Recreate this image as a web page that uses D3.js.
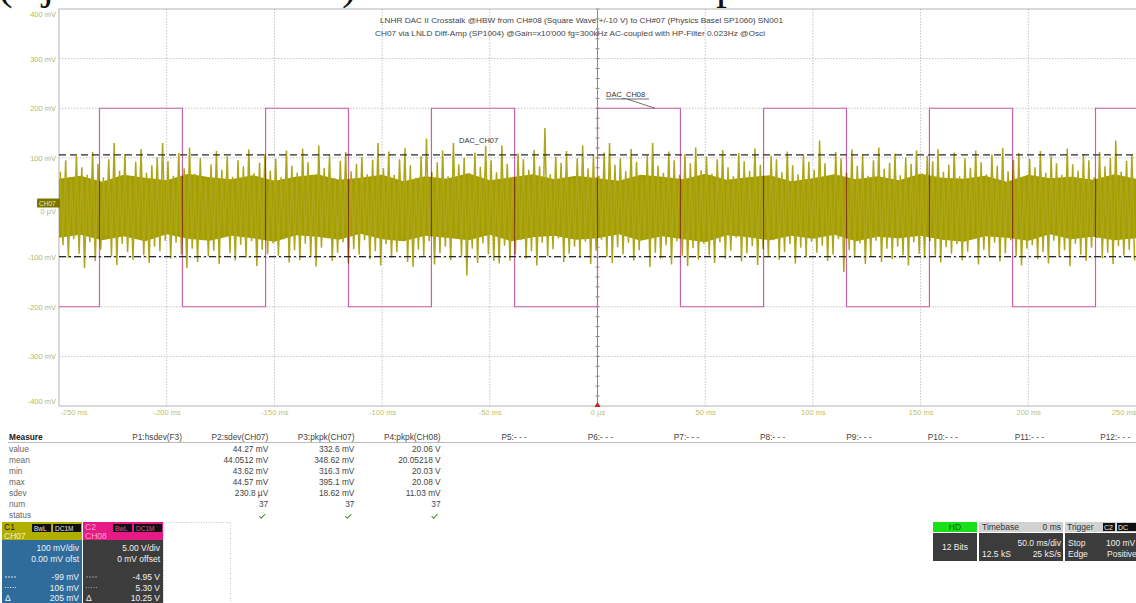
<!DOCTYPE html>
<html><head><meta charset="utf-8">
<script src="https://cdn.jsdelivr.net/npm/d3@7"></script>
<style>
html,body{margin:0;padding:0;background:#fff;}
svg{display:block;font-family:"Liberation Sans",Arial,sans-serif;}
</style></head><body>
<svg id="scope" width="1136" height="603"></svg>
<script>
// ---------- axis ticks ----------
const timeTicks = [-250,-200,-150,-100,-50,0,50,100,150,200,250];
const timeTickLabels = ["-250 ms","-200 ms","-150 ms","-100 ms","-50 ms","0 µs","50 ms","100 ms","150 ms","200 ms","250 ms"];
const voltTicks = [400,300,200,100,0,-100,-200,-300,-400];
const voltTickLabels = ["400 mV","300 mV","200 mV","100 mV","0 µV","-100 mV","-200 mV","-300 mV","-400 mV"];

// ---------- channel settings ----------
const ch07Scale = 100;   // mV/div
const ch08Scale = 5;     // V/div

// ---------- CH08: square wave +/-10 V ----------
const ch08EdgeTimes = [-231.2,-192.7,-154.1,-115.6,-77.1,-38.5,0,38.5,77.1,115.6,154.1,192.7,231.2]; // ms
const ch08Segments  = [-10,10,-10,10,-10,10,-10,10,-10,10,-10,10,-10,10]; // V

// ---------- CH07: crosstalk noise, peak values per 2.5 ms bin (mV) ----------
const noiseBinMs = 2.5;
const ch07PeakHigh = [
 72,95,58,104,81,66,112,88,61,97,130,74,108,63,92,118,70,85,101,130,
 93,64,110,79,121,68,99,57,87,114,76,103,62,95,83,117,69,90,108,74,
 98,61,115,84,70,119,91,65,125,80,106,59,94,112,73,88,102,67,96,130,
 79,113,66,97,120,85,60,104,139,72,91,115,63,130,87,100,69,111,82,124,
 95,71,125,88,62,109,97,76,116,83,160,67,102,90,114,58,99,125,79,107,
 64,111,130,86,99,73,118,92,61,105,130,84,70,113,95,66,108,89,121,75,
 102,68,97,116,81,63,110,93,74,119,86,59,104,97,71,113,85,67,108,92,
 76,135,89,62,112,99,70,117,84,106,64,95,121,78,90,109,65,101,88,115,
 69,104,93,118,72,86,111,63,99,80,115,91,67,107,84,120,73,96,110,62,
 98,81,114,70,103,89,66,119,87,74,108,95,61,112,83,100,135,72,94,106];
const ch07PeakLow = [
 -76,-101,-64,-93,-122,-70,-108,-85,-59,-99,-116,-73,-90,-105,-62,-96,-112,-79,-88,-67,
 -103,-71,-95,-122,-83,-110,-66,-98,-87,-114,-60,-92,-107,-75,-100,-68,-118,-85,-94,-72,
 -97,-64,-111,-86,-106,-73,-99,-119,-81,-62,-108,-91,-70,-113,-84,-95,-66,-104,-88,-117,
 -74,-101,-90,-63,-110,-120,-85,-97,-68,-115,-92,-79,-106,-61,-99,-137,-83,-112,-72,-94,
 -108,-113,-77,-107,-95,-66,-103,-88,-117,-71,-98,-84,-62,-110,-93,-79,-101,-69,-114,-87,
 -65,-99,-112,-80,-94,-71,-107,-86,-63,-120,-91,-103,-76,-115,-68,-97,-118,-82,-105,-73,
 -96,-112,-70,-103,-87,-61,-109,-92,-78,-116,-84,-99,-66,-105,-90,-74,-113,-81,-100,-69,
 -91,-77,-108,-95,-64,-130,-86,-101,-72,-114,-98,-67,-110,-83,-104,-79,-96,-117,-70,-93,
 -102,-68,-97,-111,-80,-93,-74,-107,-89,-63,-115,-85,-100,-71,-109,-92,-66,-98,-117,-83,
 -76,-104,-90,-113,-67,-99,-86,-118,-73,-95,-108,-81,-62,-102,-91,-114,-78,-97,-85,-107];
// dense core of the trace, every 10 ms from -250 ms (mV)
const coreStepMs = 10;
const ch07CoreHigh = [58,64,52,66,60,55,68,61,57,65,54,62,67,56,60,66,53,63,58,69,55,61,67,57,64,59,54,66,62,57,68,56,61,65,53,59,67,57,63,55,68,60,58,64,52,66,59,62,56,67,58];
const ch07CoreLow  = [-61,-55,-66,-58,-68,-54,-63,-67,-57,-62,-69,-56,-59,-65,-53,-64,-68,-57,-61,-66,-55,-68,-60,-57,-65,-62,-54,-67,-58,-64,-70,-56,-60,-66,-57,-63,-55,-68,-59,-62,-57,-65,-69,-58,-61,-67,-54,-64,-59,-66,-62];

// ---------- cursors (mV) ----------
const cursorLevels = [106,-99];
const cursorDash = ["7,4","7,3,2,3"];

// ---------- measurement table ----------
const measureRows = ["value","mean","min","max","sdev","num","status"];
const measureHeaders = ["P1:hsdev(F3)","P2:sdev(CH07)","P3:pkpk(CH07)","P4:pkpk(CH08)","P5:- - -","P6:- - -","P7:- - -","P8:- - -","P9:- - -","P10:- - -","P11:- - -","P12:- - -"];
const p2Values = ["44.27 mV","44.0512 mV","43.62 mV","44.57 mV","230.8 µV","37"];
const p3Values = ["332.6 mV","348.62 mV","316.3 mV","395.1 mV","18.62 mV","37"];
const p4Values = ["20.06 V","20.05218 V","20.03 V","20.08 V","11.03 mV","37"];

// ---------- channel / timebase panels ----------
const c1Lines = ["100 mV/div","0.00 mV ofst","-99 mV","106 mV","205 mV"];
const c2Lines = ["5.00 V/div","0 mV offset","-4.95 V","5.30 V","10.25 V"];
const titleLines = [
 "LNHR DAC II Crosstalk @HBW from CH#08 (Square Wave +/-10 V) to CH#07 (Physics Basel  SP1060) SN001",
 "CH07 via LNLD Diff-Amp (SP1004) @Gain=x10'000 fg=300kHz AC-coupled with HP-Filter 0.023Hz @Osci"];

// ================= drawing =================
const svg = d3.select("#scope");
const plot = {left:59, right:1136, top:9, bottom:406};

const x = d3.scaleLinear().domain([-250,250]).range([plot.left, plot.right]);
const yDiv = d3.scaleLinear().domain([-4,4]).range([plot.bottom, plot.top]);
const yMV = d3.scaleLinear().domain([-400,400]).range([plot.bottom, plot.top]);

svg.append("rect").attr("width",1136).attr("height",603).attr("fill","#fff");

// cropped caption of the page above
const capG = svg.append("g").attr("font-family","'Liberation Serif',serif").attr("font-size",44).attr("fill","#111");
[["(",-2],["j",42],[")",342],["p",716]].forEach(([c,px]) =>
  capG.append("text").attr("x",px).attr("y",-1).text(c));

svg.append("defs").append("clipPath").attr("id","plotClip")
  .append("rect").attr("x",plot.left).attr("y",plot.top)
  .attr("width",plot.right-plot.left).attr("height",plot.bottom-plot.top);

// grid
const grid = svg.append("g");
grid.selectAll("line.v").data(timeTicks.filter(t=>t!==-250 && t!==0 && t!==250)).join("line")
  .attr("x1",d=>x(d)).attr("x2",d=>x(d)).attr("y1",plot.top).attr("y2",plot.bottom)
  .attr("stroke","#c4c4c4").attr("stroke-dasharray","1.5,1.5");
grid.selectAll("line.h").data(voltTicks.filter(v=>Math.abs(v)!==400 && v!==0)).join("line")
  .attr("x1",plot.left).attr("x2",plot.right).attr("y1",d=>yMV(d)).attr("y2",d=>yMV(d))
  .attr("stroke","#c4c4c4").attr("stroke-dasharray","1.5,1.5");
// centre axes with minor ticks
grid.append("line").attr("x1",x(0)).attr("x2",x(0)).attr("y1",plot.top).attr("y2",plot.bottom)
  .attr("stroke","#8a8a8a");
grid.append("line").attr("x1",plot.left).attr("x2",plot.right).attr("y1",yDiv(0)).attr("y2",yDiv(0))
  .attr("stroke","#8a8a8a");
grid.selectAll("line.ty").data(d3.range(-4,4.01,0.2)).join("line")
  .attr("x1",x(0)-2).attr("x2",x(0)+2).attr("y1",d=>yDiv(d)).attr("y2",d=>yDiv(d)).attr("stroke","#8a8a8a");
grid.selectAll("line.tx").data(d3.range(-250,250.01,10)).join("line")
  .attr("x1",d=>x(d)).attr("x2",d=>x(d)).attr("y1",yDiv(0)-2).attr("y2",yDiv(0)+2).attr("stroke","#8a8a8a");
// frame
svg.append("rect").attr("x",plot.left).attr("y",plot.top).attr("width",plot.right-plot.left+2)
  .attr("height",plot.bottom-plot.top).attr("fill","none").attr("stroke","#b4b4b4");

const traces = svg.append("g").attr("clip-path","url(#plotClip)");

// CH07 trace: dense core and peak excursions
const coreArea = d3.area()
  .x((d,i)=>x(-250 + i*coreStepMs))
  .y0((d,i)=>yDiv(ch07CoreLow[i]/ch07Scale))
  .y1((d,i)=>yDiv(ch07CoreHigh[i]/ch07Scale));
traces.append("path").datum(ch07CoreHigh).attr("d",coreArea).attr("fill","#a49e00");

const zig = [];
ch07PeakHigh.forEach((hi,i) => {
  const t0 = -250 + i*noiseBinMs;
  zig.push([t0 + 0.6, hi]);
  zig.push([t0 + 1.85, ch07PeakLow[i]]);
});
traces.append("path").datum(zig)
  .attr("d", d3.line().x(d=>x(d[0])).y(d=>yDiv(d[1]/ch07Scale)))
  .attr("fill","none").attr("stroke","#aea61a").attr("stroke-width",1.5);

// CH08 square wave
const sq = [[-250, ch08Segments[0]]];
ch08EdgeTimes.forEach((t,i)=>{ sq.push([t, ch08Segments[i]]); sq.push([t, ch08Segments[i+1]]); });
sq.push([250, ch08Segments[ch08Segments.length-1]]);
traces.append("path").datum(sq)
  .attr("d", d3.line().x(d=>x(d[0])).y(d=>yDiv(d[1]/ch08Scale)))
  .attr("fill","none").attr("stroke","#c862a6").attr("stroke-width",1.2)
  .style("mix-blend-mode","multiply");

// cursors
traces.selectAll("line.cur").data(cursorLevels).join("line")
  .attr("x1",plot.left).attr("x2",plot.right)
  .attr("y1",d=>yDiv(d/ch07Scale)).attr("y2",d=>yDiv(d/ch07Scale))
  .attr("stroke","#2a2a2a").attr("stroke-width",1.2)
  .attr("stroke-dasharray",(d,i)=>cursorDash[i]);

// annotations
svg.append("text").attr("x",459).attr("y",143).attr("font-size",7.5).attr("fill","#333").text("DAC_CH07");
svg.append("text").attr("x",606).attr("y",97).attr("font-size",7.5).attr("fill","#333").text("DAC_CH08");
svg.append("line").attr("x1",606).attr("x2",649).attr("y1",99).attr("y2",99).attr("stroke","#333").attr("stroke-width",0.7);
svg.append("line").attr("x1",627).attr("x2",655).attr("y1",99).attr("y2",yDiv(10/ch08Scale)).attr("stroke","#333").attr("stroke-width",0.7);

// titles
svg.append("text").attr("x",380).attr("y",22.5).attr("font-size",7.4).attr("fill","#444")
  .attr("textLength",403).attr("lengthAdjust","spacingAndGlyphs").text(titleLines[0]);
svg.append("text").attr("x",375).attr("y",35.5).attr("font-size",7.4).attr("fill","#444")
  .attr("textLength",390).attr("lengthAdjust","spacingAndGlyphs").text(titleLines[1]);

// Y axis labels
const yAx = svg.append("g").attr("transform",`translate(${plot.left-3},0)`)
  .call(d3.axisLeft(yMV).tickValues(voltTicks).tickFormat((d,i)=>voltTickLabels[i]).tickSize(0).tickPadding(0));
yAx.select(".domain").remove();
yAx.selectAll("text").attr("font-size",7.5).attr("fill","#b9b764").attr("font-family","'Liberation Sans',Arial,sans-serif")
  .attr("dy",(d)=> d===400 ? "0.95em" : d===-400 ? "-0.3em" : d===0 ? "0.75em" : "0.32em");

// X axis labels
const xAx = svg.append("g").attr("transform",`translate(0,${plot.bottom+2})`)
  .call(d3.axisBottom(x).tickValues(timeTicks).tickFormat((d,i)=>timeTickLabels[i]).tickSize(0).tickPadding(2));
xAx.select(".domain").remove();
xAx.selectAll("text").attr("font-size",7.5).attr("fill","#c0bf6c").attr("font-family","'Liberation Sans',Arial,sans-serif")
  .attr("text-anchor",d=> d===-250 ? "start" : d===250 ? "end" : "middle")
  .attr("dx",d=> d===-250 ? 1 : 0);

// trigger marker
svg.append("path").attr("d",`M${x(0)-3},${plot.bottom+1} L${x(0)+3},${plot.bottom+1} L${x(0)},${plot.bottom-4} Z`).attr("fill","#d21c1c");

// CH07 channel marker at its ground level
svg.append("rect").attr("x",37).attr("y",yDiv(0)-9).attr("width",23).attr("height",9).attr("fill","#7b7600").attr("rx",1);
svg.append("text").attr("x",39).attr("y",yDiv(0)-2).attr("font-size",6.5).attr("fill","#ece8b8").text("CH07");

// ---------- measurement table ----------
const colRight = k => 182 + 86.2*k;
const rowY = r => 448.5 + 11.1*r;
const tbl = svg.append("g").attr("font-size",8.3).attr("fill","#555");
tbl.append("text").attr("x",9).attr("y",440).attr("font-weight","bold").attr("fill","#222").text("Measure");
tbl.selectAll("text.hdr").data(measureHeaders).join("text")
  .attr("x",(d,k)=>colRight(k)).attr("y",440).attr("text-anchor","end").attr("fill","#444").text(d=>d);
tbl.append("line").attr("x1",8).attr("x2",1136).attr("y1",442.5).attr("y2",442.5).attr("stroke","#bbb");
tbl.selectAll("text.row").data(measureRows).join("text")
  .attr("x",9).attr("y",(d,r)=>rowY(r)+3).attr("fill","#666").text(d=>d);
[p2Values,p3Values,p4Values].forEach((vals,c)=>{
  tbl.selectAll(null).data(vals).join("text")
    .attr("x",colRight(c+1)).attr("y",(d,r)=>rowY(r)+3).attr("text-anchor","end").attr("fill","#444").text(d=>d);
  tbl.append("path").attr("d",`M${colRight(c+1)-9},${rowY(6)+1} l2,2 l4,-4`)
    .attr("fill","none").attr("stroke","#4a9a3c").attr("stroke-width",1.1);
});

// ---------- channel panels ----------
function channelPanel(x0, head, body, name, nameCol, tagCol, lines, symCol){
  const g = svg.append("g").attr("font-size",8.5);
  g.append("rect").attr("x",x0).attr("y",522).attr("width",80).attr("height",18).attr("fill",head);
  g.append("rect").attr("x",x0).attr("y",540).attr("width",80).attr("height",63).attr("fill",body);
  g.append("text").attr("x",x0+2).attr("y",530).attr("fill",nameCol[0]).text(name[0]);
  g.append("rect").attr("x",x0+30).attr("y",524).attr("width",19).attr("height",8).attr("fill","#111");
  g.append("rect").attr("x",x0+51).attr("y",524).attr("width",28).attr("height",8).attr("fill","#111");
  g.append("text").attr("x",x0+32).attr("y",531).attr("font-size",6.5).attr("fill",tagCol).text("BwL");
  g.append("text").attr("x",x0+53).attr("y",531).attr("font-size",6.5).attr("fill",tagCol).text("DC1M");
  g.append("text").attr("x",x0+2).attr("y",539).attr("fill",nameCol[1]).text(name[1]);
  const ys = [551,561.5,580,590.5,601];
  g.selectAll(null).data(lines).join("text")
    .attr("x",x0+77).attr("y",(d,i)=>ys[i]).attr("text-anchor","end").attr("fill","#f2f2f2").text(d=>d);
  g.append("line").attr("x1",x0+3).attr("x2",x0+14).attr("y1",577).attr("y2",577).attr("stroke",symCol).attr("stroke-dasharray","2,1");
  g.append("line").attr("x1",x0+3).attr("x2",x0+14).attr("y1",587.5).attr("y2",587.5).attr("stroke",symCol).attr("stroke-dasharray","1,1.5");
  g.append("text").attr("x",x0+3).attr("y",601).attr("fill","#f2f2f2").text("Δ");
}
channelPanel(2,"#b2ae00","#2f6c9c",["C1","CH07"],["#1d1d00","#f2eec4"],"#e0e0e0",c1Lines,"#e6e6e6");
channelPanel(83,"#e61a86","#3c3c3c",["C2","CH08"],["#f7a4cc","#f7a4cc"],"#e0559a",c2Lines,"#9a9a9a");
svg.append("rect").attr("x",163.5).attr("y",522.5).attr("width",67).attr("height",81)
  .attr("fill","none").attr("stroke","#c4c4c4").attr("stroke-dasharray","1,1.5");

// ---------- timebase / trigger panels ----------
const tb = svg.append("g").attr("font-size",8.5);
tb.append("rect").attr("x",933).attr("y",522).attr("width",44).attr("height",10).attr("fill","#19e019");
tb.append("text").attr("x",955).attr("y",530).attr("text-anchor","middle").attr("fill","#0b5a0b").text("HD");
tb.append("rect").attr("x",933).attr("y",533).attr("width",44).attr("height",28).attr("fill","#3c3c3c");
tb.append("text").attr("x",955).attr("y",550).attr("text-anchor","middle").attr("fill","#eee").text("12 Bits");
tb.append("rect").attr("x",979).attr("y",522).attr("width",84).attr("height",10).attr("fill","#d2d2d2");
tb.append("text").attr("x",982).attr("y",530).attr("fill","#333").text("Timebase");
tb.append("text").attr("x",1061).attr("y",530).attr("text-anchor","end").attr("fill","#333").text("0 ms");
tb.append("rect").attr("x",979).attr("y",533).attr("width",84).attr("height",28).attr("fill","#3c3c3c");
tb.append("text").attr("x",1061).attr("y",546).attr("text-anchor","end").attr("fill","#eee").text("50.0 ms/div");
tb.append("text").attr("x",982).attr("y",557).attr("fill","#eee").text("12.5 kS");
tb.append("text").attr("x",1061).attr("y",557).attr("text-anchor","end").attr("fill","#eee").text("25 kS/s");
tb.append("rect").attr("x",1065).attr("y",522).attr("width",71).attr("height",10).attr("fill","#d2d2d2");
tb.append("text").attr("x",1067).attr("y",530).attr("fill","#333").text("Trigger");
tb.append("rect").attr("x",1103).attr("y",523).attr("width",12).attr("height",8).attr("fill","#111");
tb.append("rect").attr("x",1117).attr("y",523).attr("width",19).attr("height",8).attr("fill","#111");
tb.append("text").attr("x",1104).attr("y",530).attr("font-size",7).attr("fill","#eee").text("C2");
tb.append("text").attr("x",1118).attr("y",530).attr("font-size",7).attr("fill","#eee").text("DC");
tb.append("rect").attr("x",1065).attr("y",533).attr("width",71).attr("height",28).attr("fill","#3c3c3c");
tb.append("text").attr("x",1068).attr("y",546).attr("fill","#eee").text("Stop");
tb.append("text").attr("x",1106).attr("y",546).attr("fill","#eee").text("100 mV");
tb.append("text").attr("x",1068).attr("y",557).attr("fill","#eee").text("Edge");
tb.append("text").attr("x",1107).attr("y",557).attr("fill","#eee").text("Positive");
</script>
</body></html>
